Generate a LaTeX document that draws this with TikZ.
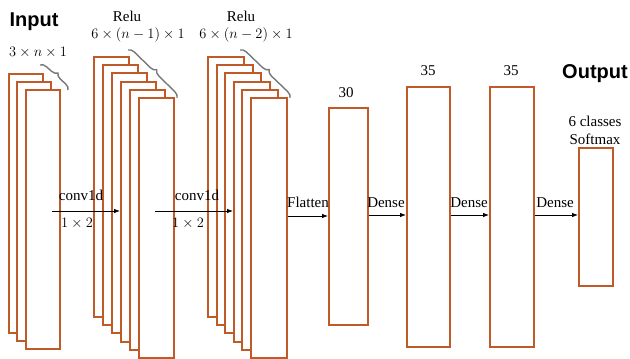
\documentclass[tikz,border=0pt]{standalone}
\usepackage{fontspec}
\newfontfamily\headfont{Liberation Sans}
\newfontfamily\lblfont{Liberation Serif}
\usetikzlibrary{decorations.pathreplacing,shadows,arrows.meta,calc}
\definecolor{layer}{RGB}{192,90,40}
\definecolor{bracegray}{RGB}{120,120,120}
\tikzset{
  layerbox/.style={draw=layer, line width=1.6pt, fill=white, anchor=north west, inner sep=0pt,
    drop shadow={shadow xshift=1pt, shadow yshift=-1.2pt, opacity=0.3, fill=black}},
  lbl/.style={font=\lblfont\fontsize{15}{18}\selectfont, inner sep=0pt, align=center},
  mlbl/.style={font=\fontsize{14.5}{17}\selectfont, inner sep=0pt, align=center},
  head/.style={font=\headfont\bfseries\fontsize{20}{22}\selectfont, inner sep=0pt},
  conn/.style={line width=0.8pt, -{Latex[length=6pt,width=4.5pt]}},
  bracestyle/.style={draw=bracegray, line width=1.4pt, decorate, decoration={brace, amplitude=6pt}},
}
\begin{document}
\begin{tikzpicture}[x=1pt,y=-1pt]
\useasboundingbox (0,0) rectangle (630,359);
% input stack
\foreach \i in {0,1,2}
  \node[layerbox, minimum width=34pt, minimum height=259pt] (in\i) at ({round(7.5+8.9*\i)},{round(73+8.1*\i)}) {};
% relu stack 1
\foreach \i in {0,...,5}
  \node[layerbox, minimum width=35pt, minimum height=260pt] (ra\i) at ({93+9*\i},{round(56+8.2*\i)}) {};
% relu stack 2
\foreach \i in {0,...,5}
  \node[layerbox, minimum width=36pt, minimum height=260pt] (rb\i) at ({round(207+8.6*\i)},{round(56+8.2*\i)}) {};
% dense layers
\node[layerbox, minimum width=39pt, minimum height=217pt] (d1) at (328,107) {};
\node[layerbox, minimum width=43pt, minimum height=260pt] (d2) at (406,86) {};
\node[layerbox, minimum width=44pt, minimum height=260pt] (d3) at (489,86) {};
\node[layerbox, minimum width=34pt, minimum height=138pt] (out) at (578,147) {};

% braces
\coordinate (b1s) at (40,65);   \coordinate (b1e) at (68,90);
\coordinate (b2s) at (128,50);  \coordinate (b2e) at (177,98);
\coordinate (b3s) at (240,50);  \coordinate (b3e) at (290,98);
\draw[bracestyle] (b1s) -- (b1e);
\draw[bracestyle] (b2s) -- (b2e);
\draw[bracestyle] (b3s) -- (b3e);

% headings and labels
\node[head] (tin) at (34,22) {Input};
\node[head] (tout) at (595,74) {Output};
\node[mlbl] (sin) at (38,52) {$3\times n\times 1$};
\node[lbl] (relu1) at (127,16) {Relu};
\node[mlbl] (dim1) at (138,35) {$6\times(n-1)\times 1$};
\node[lbl] (relu2) at (241,16) {Relu};
\node[mlbl] (dim2) at (246,35) {$6\times(n-2)\times 1$};
\node[lbl] (n30) at (346,93) {30};
\node[lbl] (n35a) at (428,71) {35};
\node[lbl] (n35b) at (511,71) {35};
\node[lbl] (cls) at (595,121) {6 classes};
\node[lbl] (smax) at (595,139) {Softmax};

% connectors
\coordinate (a1s) at (52,211);  \coordinate (a1e) at (ra3.west |- a1s);
\coordinate (a2s) at (155,211); \coordinate (a2e) at (rb3.west |- a2s);
\coordinate (a3s) at (rb5.east |- 0,216); \coordinate (a3e) at (d1.west |- a3s);
\draw[conn] (a1s) -- (a1e);
\draw[conn] (a2s) -- (a2e);
\draw[conn] (a3s) -- (a3e);
\draw[conn] (d1.east |- 0,215) -- (d2.west |- 0,215);
\draw[conn] (d2.east |- 0,215) -- (d3.west |- 0,215);
\draw[conn] (d3.east |- 0,215) -- (out.west |- 0,215);

\node[lbl] (c1) at (81,195) {conv1d};
\node[mlbl] (k1) at (77,223) {$1\times 2$};
\node[lbl] (c2) at (197,195) {conv1d};
\node[mlbl] (k2) at (188,223) {$1\times 2$};
\node[lbl] (fl) at (308,202) {Flatten};
\node[lbl] (de1) at (386,203) {Dense};
\node[lbl] (de2) at (469,203) {Dense};
\node[lbl] (de3) at (555,203) {Dense};
\end{tikzpicture}
\end{document}
